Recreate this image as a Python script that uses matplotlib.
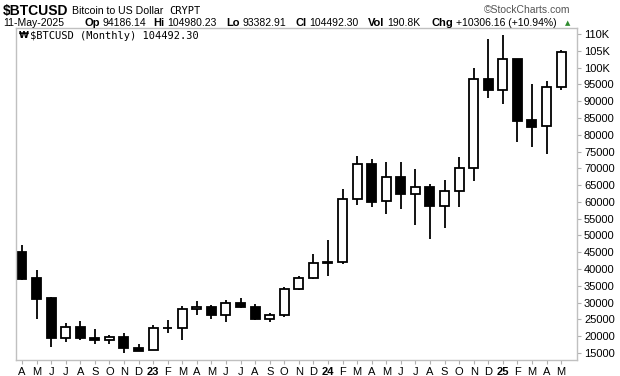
import matplotlib
matplotlib.use("Agg")
import matplotlib.pyplot as plt
import numpy as np

# monthly candles, Apr 2022 .. May 2025
months = ['A', 'M', 'J', 'J', 'A', 'S', 'O', 'N', 'D',
          '23', 'F', 'M', 'A', 'M', 'J', 'J', 'A', 'S', 'O', 'N', 'D',
          '24', 'F', 'M', 'A', 'M', 'J', 'J', 'A', 'S', 'O', 'N', 'D',
          '25', 'F', 'M', 'A', 'M']
opens = [44990, 37240, 31470, 19350, 22750, 19560, 18760, 19760, 16490,
         15890, 22340, 22450, 28090, 28680, 26440, 29870, 28680, 25230, 26240, 34060, 37340,
         41800, 42020, 60780, 71200, 60260, 67410, 62350, 64410, 58690, 63160, 70000, 96600,
         93230, 102470, 84390, 82600, 94130]
highs = [47170, 39720, 31600, 24040, 24650, 22190, 20360, 20960, 17680,
         23340, 24860, 28880, 30500, 29260, 30800, 31380, 29560, 26830, 34650, 37930, 44570,
         48650, 63850, 73670, 72770, 71790, 71790, 69800, 65330, 66520, 73280, 99800, 108500,
         109700, 102600, 95100, 96000, 105300]
lows = [36830, 25230, 16900, 18160, 18760, 17560, 17560, 14990, 15490,
        15790, 20840, 18760, 26440, 25260, 24090, 28280, 24680, 24090, 25840, 33800, 37100,
        38030, 41430, 59000, 58570, 56390, 57970, 52990, 48890, 52140, 58570, 66370, 91030,
        89070, 77930, 76440, 74170, 93410]
closes = [37120, 31200, 19350, 22750, 19350, 18760, 19760, 16370, 15690,
          22450, 22440, 28090, 28680, 26440, 29870, 28580, 25230, 26240, 34060, 37340, 41720,
          42000, 60780, 71200, 60060, 67410, 62350, 64410, 58690, 63160, 70000, 96530, 93230,
          102470, 84180, 82400, 94130, 104550]
yticks = [15000, 20000, 25000, 30000, 35000, 40000, 45000, 50000, 55000, 60000,
          65000, 70000, 75000, 80000, 85000, 90000, 95000, 100000, 105000, 110000]

W, H = 620, 376
fig = plt.figure(figsize=(W / 100, H / 100), dpi=100)
ax = fig.add_axes([16 / W, (H - 360) / H, (577 - 16) / W, (360 - 28) / H])

x = np.arange(len(months))
o = np.array(opens)
c = np.array(closes)
down = c < o
ax.vlines(x, lows, highs, color='black', linewidth=1.3, zorder=1)
ax.bar(x, np.abs(c - o), bottom=np.minimum(o, c), width=0.62,
       color=np.where(down, 'black', 'white'), edgecolor='black', linewidth=1.3, zorder=2)

ax.set_xlim(-0.41, 38.09)
ax.set_ylim(12915, 111790)
ax.set_xticks(x)
ax.set_xticklabels(months, fontsize=8, family='Liberation Sans')
for lbl in ax.get_xticklabels():
    if lbl.get_text().isdigit():
        lbl.set_fontweight('bold')
ax.yaxis.tick_right()
ax.set_yticks(yticks)
ax.set_yticklabels([f'{int(v/1000)}K' if v >= 100000 else str(v) for v in yticks],
                   fontsize=8, family='Liberation Sans')
ax.tick_params(axis='both', length=3, width=0.8, color='#b0b0b0', pad=2)
for s in ax.spines.values():
    s.set_color('#c0c0c0')
    s.set_linewidth(1.0)

fig.canvas.draw()
rend = fig.canvas.get_renderer()


def ftext(px, py, s, **kw):
    return fig.text(px / W, 1 - py / H, s, va='center', **kw)


def right_of(t):
    return t.get_window_extent(renderer=rend).x1


sans = ['Liberation Sans', 'DejaVu Sans']
t = ftext(3, 11, '$BTCUSD', fontsize=10, fontweight='bold', family=sans)
t = ftext(right_of(t) + 4, 11, 'Bitcoin to US Dollar', fontsize=7.6, family=sans)
ftext(right_of(t) + 5, 11.5, 'CRYPT', fontsize=7.5, family='DejaVu Sans Mono')
ftext(570, 10, '\u00a9StockCharts.com', fontsize=7.5, family=sans, color='#555555', ha='right')

ftext(3, 23, '11-May-2025', fontsize=7.5, family=sans)
pieces = [(84, 'Op', '94186.14'), (153, 'Hi', '104980.23'), (226, 'Lo', '93382.91'),
          (295, 'Cl', '104492.30'), (368, 'Vol', '190.8K'), (431, 'Chg', '+10306.16 (+10.94%)')]
for px, lab, val in pieces:
    t = ftext(px, 23, lab, fontsize=8, fontweight='bold', family=sans)
    ftext(right_of(t) + 3, 23, val, fontsize=7.5, family=sans)
ftext(568, 23, '\u25b2', fontsize=5, color='#2e8b2e', ha='center', family='DejaVu Sans')

ftext(19, 36, '\u20a9', fontsize=6.5, family='DejaVu Sans', fontweight='bold')
ftext(30, 36, '$BTCUSD (Monthly) 104492.30', fontsize=7.5, family='DejaVu Sans Mono')

fig.savefig('out.png', dpi=100)
